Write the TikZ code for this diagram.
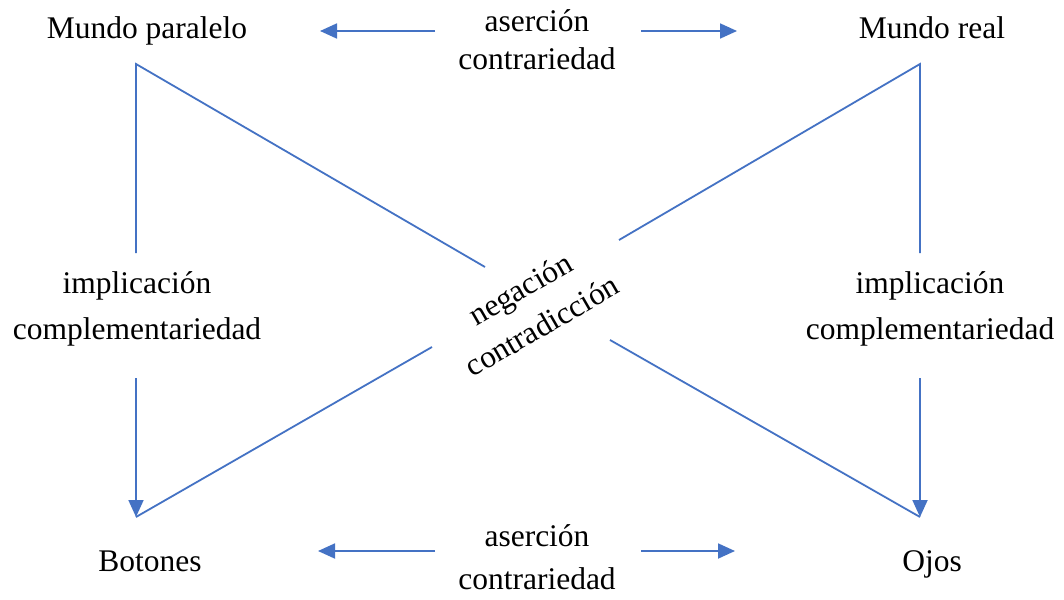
\documentclass[tikz,border=0pt]{standalone}
\usepackage{fontspec}
\setmainfont{Liberation Serif}
\usetikzlibrary{arrows.meta}
\definecolor{lineblue}{RGB}{68,114,196}
\begin{document}
\begin{tikzpicture}[x=1pt,y=-1pt,
  lbl/.style={inner sep=0pt,align=center,font=\fontsize{31.5}{38}\selectfont},
  one/.style={lbl,text height=21pt,text depth=7pt},
  conn/.style={draw=lineblue,line width=1.8pt},
  arr/.style={conn,-{Triangle[length=17pt,width=15pt]}}]
\useasboundingbox[fill=white] (0,0) rectangle (1064,599);
% text nodes
\node[one] (MP) at (147,32) {Mundo paralelo};
\node[one] (MR) at (932,32) {Mundo real};
\node[one] (B) at (150,564) {Botones};
\node[one] (O) at (932,564) {Ojos};
\node[lbl,font=\fontsize{31.5}{38}\selectfont] (topC) at (537,40) {aserción\\contrariedad};
\node[lbl,font=\fontsize{31.5}{43}\selectfont] (botC) at (537,557) {aserción\\contrariedad};
\node[lbl,font=\fontsize{31.5}{46}\selectfont] (impL) at (137,309) {implicación\\complementariedad};
\node[lbl,font=\fontsize{31.5}{46}\selectfont] (impR) at (930,309) {implicación\\complementariedad};
\node[lbl,font=\fontsize{31.5}{43}\selectfont,rotate=30] (neg) at (531,307) {negación\\contradicción};
% corner coordinates
\coordinate (cTL) at (136,64);
\coordinate (cTR) at (920,64);
\coordinate (cBL) at (136,517);
\coordinate (cBR) at (920,517);
\coordinate (vL1) at (136,253);
\coordinate (vL2) at (136,378);
\coordinate (vR1) at (920,253);
\coordinate (vR2) at (920,378);
\coordinate (d1a) at (485,267);
\coordinate (d1b) at (610,340);
\coordinate (d2a) at (619,240);
\coordinate (d2b) at (432,347);
\coordinate (tL1) at (435,31);
\coordinate (tL2) at (320,31);
\coordinate (tR1) at (641,31);
\coordinate (tR2) at (737,31);
\coordinate (bL1) at (435,551);
\coordinate (bL2) at (318,551);
\coordinate (bR1) at (641,551);
\coordinate (bR2) at (735,551);
% connectors
\draw[conn] (vL1) -- (cTL) -- (d1a);
\draw[conn] (d1b) -- (cBR);
\draw[conn] (vR1) -- (cTR) -- (d2a);
\draw[conn] (d2b) -- (cBL);
\draw[arr] (vL2) -- (cBL);
\draw[arr] (vR2) -- (cBR);
\draw[arr] (tL1) -- (tL2);
\draw[arr] (tR1) -- (tR2);
\draw[arr] (bL1) -- (bL2);
\draw[arr] (bR1) -- (bR2);
\end{tikzpicture}
\end{document}
